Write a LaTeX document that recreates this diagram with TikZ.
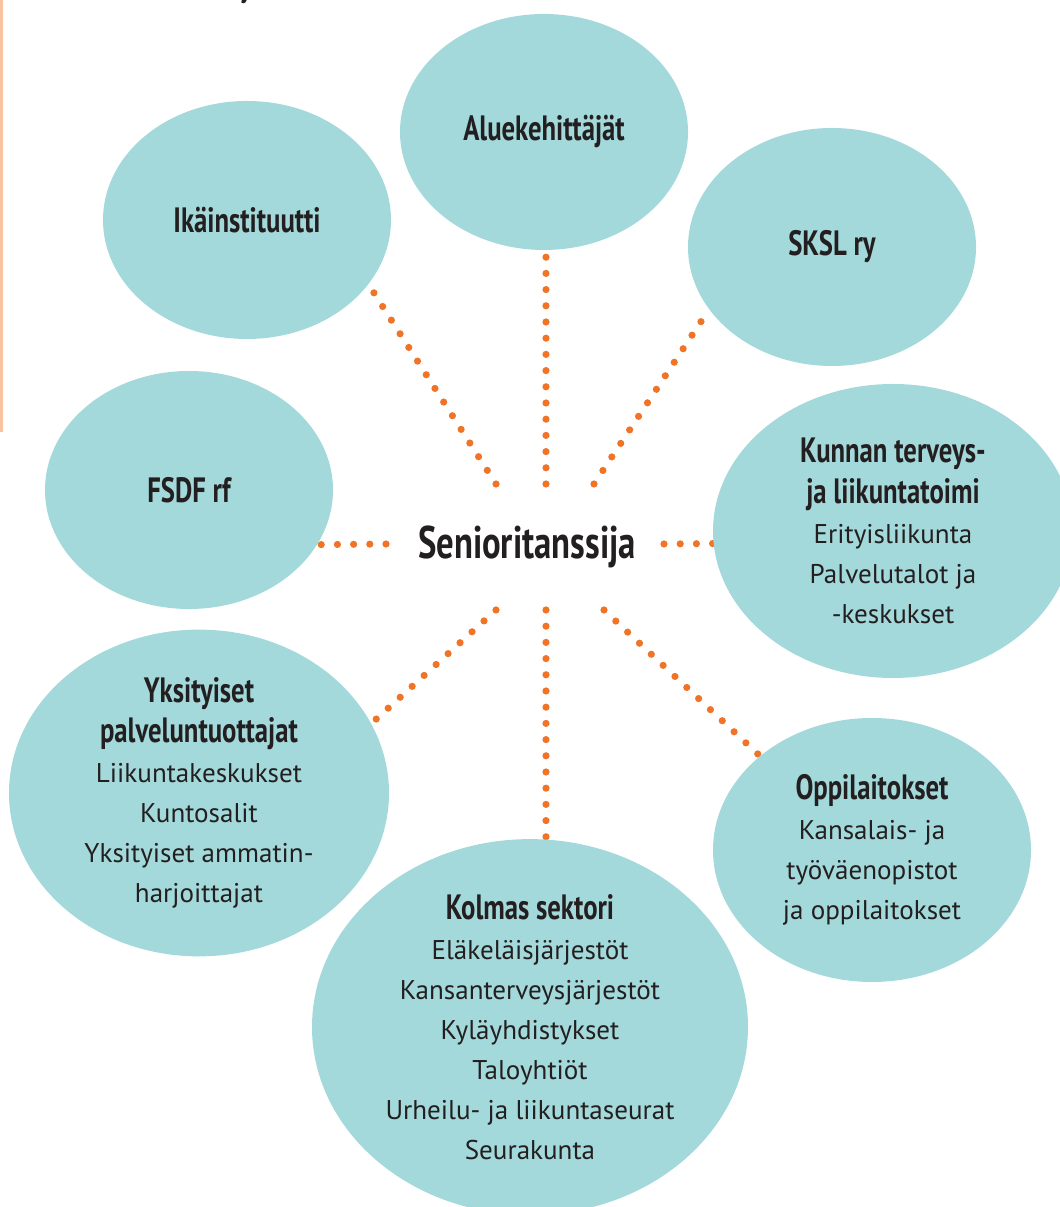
\documentclass[tikz,border=0pt]{standalone}
\usepackage{fontspec}
\setmainfont{PT Sans}
\newfontfamily\headfont[FakeStretch=0.76]{PT Sans}
\usetikzlibrary{shapes.geometric,backgrounds}
\definecolor{bubblefill}{HTML}{A3D9DA}
\definecolor{dotorange}{HTML}{F07427}
\definecolor{inkdark}{HTML}{231F20}
\definecolor{edgepeach}{HTML}{F8C3A0}
\newcommand{\hd}[1]{{\headfont\bfseries\fontsize{10}{10.8}\selectfont #1}}
\tikzset{
  bubble/.style={ellipse, fill=bubblefill, inner sep=0pt, align=center, text=inkdark, font=\fontsize{7.7}{11.4}\selectfont},
  dotline/.style={line width=0.72mm, draw=dotorange, line cap=round, dash pattern=on 0pt off 1.62mm},
  hubtext/.style={font=\headfont\bfseries\fontsize{13}{15}\selectfont, text=inkdark},
  edgeline/.style={line width=0.5mm, draw=edgepeach},
}

\begin{document}
\begin{tikzpicture}
\useasboundingbox (0,0) rectangle (10.60,12.07);
\draw[edgeline] (0.01,12.07) -- (0.01,7.75);
\node[anchor=base, text=inkdark, font=\headfont\bfseries\fontsize{10}{10.8}\selectfont] (topy) at (2.46,12.10) {y};
\node[hubtext] (hub) at (5.27,6.60) {Senioritanssija};
\node[bubble, minimum width=2.88cm, minimum height=2.36cm] (alue) at (5.44,10.75) {\hd{Aluekehittäjät}};
\node[bubble, minimum width=2.88cm, minimum height=2.38cm] (ika) at (2.47,9.87) {\hd{Ikäinstituutti}};
\node[bubble, minimum width=2.88cm, minimum height=2.38cm] (sksl) at (8.32,9.60) {\hd{SKSL ry}};
\node[bubble, minimum width=2.88cm, minimum height=2.38cm] (fsdf) at (1.89,7.17) {\hd{FSDF rf}};
\node[bubble, minimum width=3.60cm, minimum height=2.94cm] (kunta) at (8.93,6.76) {\hd{Kunnan terveys-}\\ \hd{ja liikuntatoimi}\\ Erityisliikunta\\ Palvelutalot ja\\ -keskukset};
\node[bubble, minimum width=3.80cm, minimum height=3.14cm] (yks) at (1.99,4.14) {\hd{Yksityiset}\\ \hd{palveluntuottajat}\\ Liikuntakeskukset\\ Kuntosalit\\ Yksityiset ammatin-\\ harjoittajat};
\node[bubble, minimum width=3.18cm, minimum height=2.64cm] (oppi) at (8.72,3.57) {\hd{Oppilaitokset}\\ Kansalais- ja\\ työväenopistot\\ ja oppilaitokset};
\node[bubble, minimum width=4.36cm, minimum height=3.56cm] (kolmas) at (5.30,1.80) {\hd{Kolmas sektori}\\ Eläkeläisjärjestöt\\ Kansanterveysjärjestöt\\ Kyläyhdistykset\\ Taloyhtiöt\\ Urheilu- ja liikuntaseurat\\ Seurakunta};
\coordinate (hubN) at (5.46,7.23);
\coordinate (hubNW) at (4.96,7.23);
\coordinate (hubNE) at (5.94,7.23);
\coordinate (hubW) at (3.86,6.63);
\coordinate (hubE) at (6.64,6.63);
\coordinate (hubSW) at (4.96,5.97);
\coordinate (hubS) at (5.46,5.97);
\coordinate (hubSE) at (6.04,5.97);
\begin{scope}[on background layer]
\draw[dotline] (hubN) -- (hubN |- alue.south);
\draw[dotline] (hubNW) -- (ika.-28);
\draw[dotline] (hubNE) -- (sksl.-153);
\draw[dotline] (hubW) -- (fsdf.-23);
\draw[dotline] (hubE) -- (kunta.184);
\draw[dotline] (hubSW) -- (yks.22);
\draw[dotline] (hubS) -- (hubS |- kolmas.north);
\draw[dotline] (hubSE) -- (oppi.140);
\end{scope}
\end{tikzpicture}
\end{document}
